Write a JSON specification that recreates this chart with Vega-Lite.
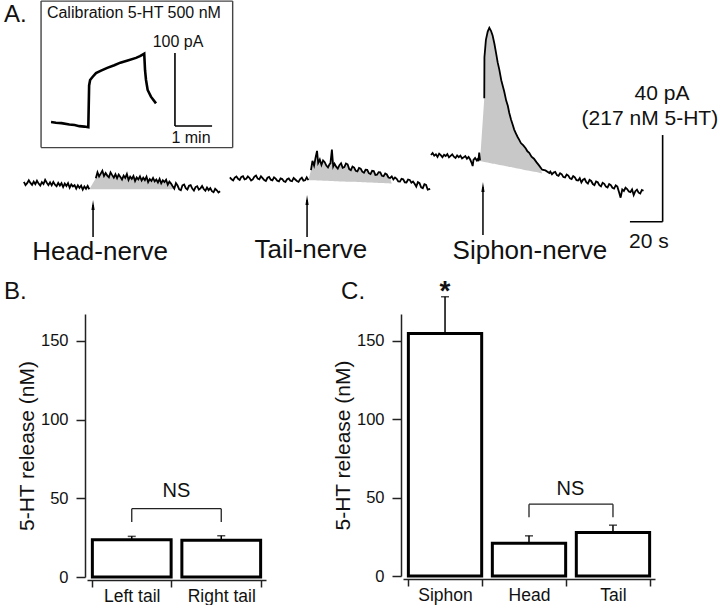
{
  "$schema": "https://vega.github.io/schema/vega-lite/v6.json",
  "padding": {"left": 3, "top": 0, "right": 0, "bottom": 0},
  "bounds": "flush",
  "spacing": 14,
  "config": {
    "font": "Liberation Sans",
    "view": {"stroke": null},
    "axisY": {"offset": 2, "tickCount": 4, "tickSize": 9, "labelPadding": 8, "labelFontSize": 16.5, "labelColor": "#111", "titleFontSize": 21, "titleFontWeight": "normal", "titleColor": "#111", "titlePadding": 3, "domainColor": "#222", "domainWidth": 1.5, "tickColor": "#222", "tickWidth": 1.5, "grid": false},
    "axisX": {"offset": 3, "tickBand": "extent", "tickSize": 7, "labelPadding": 0, "labelFontSize": 17.5, "labelColor": "#111", "labelAngle": 0, "domainColor": "#222", "domainWidth": 1.5, "tickColor": "#222", "tickWidth": 1.5, "grid": false}
  },
  "datasets": {
    "trace": [
      {"seg":"cal","t":30.6,"pA":82.1},{"seg":"cal","t":33.6,"pA":81.8},{"seg":"cal","t":37,"pA":81.6},{"seg":"cal","t":41.8,"pA":81.0},{"seg":"cal","t":45,"pA":80.7},{"seg":"cal","t":47.9,"pA":80.2},{"seg":"cal","t":51,"pA":80.0},{"seg":"cal","t":53.4,"pA":79.7},{"seg":"cal","t":53.9,"pA":99.0},{"seg":"cal","t":54.5,"pA":101.5},{"seg":"cal","t":56.1,"pA":103.0},{"seg":"cal","t":58.1,"pA":104.7},{"seg":"cal","t":61.2,"pA":105.8},{"seg":"cal","t":65,"pA":107.1},{"seg":"cal","t":69.3,"pA":108.3},{"seg":"cal","t":73,"pA":109.5},{"seg":"cal","t":77.5,"pA":110.5},{"seg":"cal","t":82.6,"pA":111.7},{"seg":"cal","t":85,"pA":112.5},{"seg":"cal","t":87.6,"pA":113.6},{"seg":"cal","t":88.1,"pA":106.0},{"seg":"cal","t":88.7,"pA":101.5},{"seg":"cal","t":89.7,"pA":96.9},{"seg":"cal","t":91.7,"pA":93.8},{"seg":"cal","t":94.8,"pA":90.7},
      {"seg":"h1","t":14,"pA":54.5},{"seg":"h1","t":15,"pA":53.0},{"seg":"h1","t":16,"pA":53.9},{"seg":"h1","t":17,"pA":55.2},{"seg":"h1","t":18,"pA":54.0},{"seg":"h1","t":19,"pA":53.1},{"seg":"h1","t":20,"pA":54.6},{"seg":"h1","t":21,"pA":53.4},{"seg":"h1","t":22,"pA":55.0},{"seg":"h1","t":23,"pA":53.7},{"seg":"h1","t":24,"pA":52.8},{"seg":"h1","t":25,"pA":54.4},{"seg":"h1","t":26,"pA":53.5},{"seg":"h1","t":27,"pA":55.4},{"seg":"h1","t":28,"pA":54.1},{"seg":"h1","t":29,"pA":53.0},{"seg":"h1","t":30,"pA":54.3},{"seg":"h1","t":31,"pA":52.9},{"seg":"h1","t":32,"pA":54.5},{"seg":"h1","t":33,"pA":53.2},{"seg":"h1","t":34,"pA":52.5},{"seg":"h1","t":35,"pA":54.0},{"seg":"h1","t":36,"pA":52.8},{"seg":"h1","t":37,"pA":53.9},{"seg":"h1","t":38,"pA":52.1},{"seg":"h1","t":39,"pA":53.7},{"seg":"h1","t":40,"pA":52.6},{"seg":"h1","t":41,"pA":53.9},{"seg":"h1","t":42,"pA":51.8},{"seg":"h1","t":43,"pA":53.3},{"seg":"h1","t":44,"pA":52.4},{"seg":"h1","t":45,"pA":53.0},{"seg":"h1","t":46,"pA":51.4},{"seg":"h1","t":47,"pA":52.9},{"seg":"h1","t":48,"pA":51.7},{"seg":"h1","t":49,"pA":52.8},{"seg":"h1","t":50,"pA":50.9},{"seg":"h1","t":51,"pA":52.4},{"seg":"h1","t":52,"pA":51.3},{"seg":"h1","t":53,"pA":52.6},{"seg":"h1","t":54,"pA":51.1},
      {"seg":"h2","t":58,"pA":56.2},{"seg":"h2","t":59,"pA":58.9},{"seg":"h2","t":60,"pA":57.0},{"seg":"h2","t":61,"pA":58.3},{"seg":"h2","t":62,"pA":59.6},{"seg":"h2","t":63,"pA":57.2},{"seg":"h2","t":64,"pA":58.6},{"seg":"h2","t":65,"pA":57.4},{"seg":"h2","t":66,"pA":56.6},{"seg":"h2","t":67,"pA":58.9},{"seg":"h2","t":68,"pA":57.6},{"seg":"h2","t":69,"pA":56.4},{"seg":"h2","t":70,"pA":58.0},{"seg":"h2","t":71,"pA":56.2},{"seg":"h2","t":72,"pA":57.9},{"seg":"h2","t":73,"pA":56.8},{"seg":"h2","t":74,"pA":55.6},{"seg":"h2","t":75,"pA":57.4},{"seg":"h2","t":76,"pA":56.3},{"seg":"h2","t":77,"pA":58.1},{"seg":"h2","t":78,"pA":55.4},{"seg":"h2","t":79,"pA":56.9},{"seg":"h2","t":80,"pA":55.9},{"seg":"h2","t":81,"pA":57.2},{"seg":"h2","t":82,"pA":54.9},{"seg":"h2","t":83,"pA":56.5},{"seg":"h2","t":84,"pA":55.6},{"seg":"h2","t":85,"pA":57.0},{"seg":"h2","t":86,"pA":55.1},{"seg":"h2","t":87,"pA":56.4},{"seg":"h2","t":88,"pA":55.3},{"seg":"h2","t":89,"pA":56.9},{"seg":"h2","t":90,"pA":54.4},{"seg":"h2","t":91,"pA":55.8},{"seg":"h2","t":92,"pA":54.9},{"seg":"h2","t":93,"pA":56.3},{"seg":"h2","t":94,"pA":54.7},{"seg":"h2","t":95,"pA":55.6},{"seg":"h2","t":96,"pA":54.2},{"seg":"h2","t":97,"pA":55.9},{"seg":"h2","t":98,"pA":53.8},{"seg":"h2","t":99,"pA":55.2},{"seg":"h2","t":100,"pA":54.4},{"seg":"h2","t":101,"pA":55.5},{"seg":"h2","t":102,"pA":53.2},{"seg":"h2","t":103,"pA":54.6},{"seg":"h2","t":104,"pA":53.7},{"seg":"h2","t":105,"pA":52.5},{"seg":"h2","t":106,"pA":51.4},{"seg":"h2","t":107,"pA":53.9},{"seg":"h2","t":108,"pA":52.8},{"seg":"h2","t":109,"pA":51.0},{"seg":"h2","t":110,"pA":50.6},{"seg":"h2","t":111,"pA":52.9},{"seg":"h2","t":112,"pA":53.3},{"seg":"h2","t":113,"pA":51.6},{"seg":"h2","t":114,"pA":51.0},{"seg":"h2","t":115,"pA":52.7},{"seg":"h2","t":116,"pA":53.0},{"seg":"h2","t":117,"pA":51.4},{"seg":"h2","t":118,"pA":50.5},{"seg":"h2","t":119,"pA":52.1},{"seg":"h2","t":120,"pA":52.5},{"seg":"h2","t":121,"pA":50.9},{"seg":"h2","t":122,"pA":51.5},{"seg":"h2","t":123,"pA":52.6},{"seg":"h2","t":124,"pA":51.2},{"seg":"h2","t":125,"pA":50.4},{"seg":"h2","t":126,"pA":51.9},{"seg":"h2","t":127,"pA":50.7},{"seg":"h2","t":128,"pA":51.6},{"seg":"h2","t":129,"pA":50.2},{"seg":"h2","t":130,"pA":49.7},{"seg":"h2","t":131,"pA":51.3},{"seg":"h2","t":132,"pA":50.6},{"seg":"h2","t":133,"pA":49.6},{"seg":"h2","t":134,"pA":50.2},
      {"seg":"t1","t":140,"pA":56.6},{"seg":"t1","t":141,"pA":55.7},{"seg":"t1","t":142,"pA":55.2},{"seg":"t1","t":143,"pA":56.5},{"seg":"t1","t":144,"pA":57.0},{"seg":"t1","t":145,"pA":55.9},{"seg":"t1","t":146,"pA":55.4},{"seg":"t1","t":147,"pA":56.8},{"seg":"t1","t":148,"pA":57.1},{"seg":"t1","t":149,"pA":55.6},{"seg":"t1","t":150,"pA":55.9},{"seg":"t1","t":151,"pA":57.0},{"seg":"t1","t":152,"pA":56.3},{"seg":"t1","t":153,"pA":55.1},{"seg":"t1","t":154,"pA":55.6},{"seg":"t1","t":155,"pA":56.9},{"seg":"t1","t":156,"pA":57.4},{"seg":"t1","t":157,"pA":56.0},{"seg":"t1","t":158,"pA":55.7},{"seg":"t1","t":159,"pA":57.1},{"seg":"t1","t":160,"pA":56.2},{"seg":"t1","t":161,"pA":55.3},{"seg":"t1","t":162,"pA":54.9},{"seg":"t1","t":163,"pA":56.4},{"seg":"t1","t":164,"pA":56.8},{"seg":"t1","t":165,"pA":55.5},{"seg":"t1","t":166,"pA":55.2},{"seg":"t1","t":167,"pA":56.6},{"seg":"t1","t":168,"pA":56.0},{"seg":"t1","t":169,"pA":55.0},{"seg":"t1","t":170,"pA":54.7},{"seg":"t1","t":171,"pA":56.1},{"seg":"t1","t":172,"pA":55.8},{"seg":"t1","t":173,"pA":54.8},{"seg":"t1","t":174,"pA":54.5},{"seg":"t1","t":175,"pA":55.7},{"seg":"t1","t":176,"pA":56.1},{"seg":"t1","t":177,"pA":55.0},{"seg":"t1","t":178,"pA":54.8},{"seg":"t1","t":179,"pA":56.3},{"seg":"t1","t":180,"pA":55.6},{"seg":"t1","t":181,"pA":54.9},{"seg":"t1","t":182,"pA":54.5},{"seg":"t1","t":183,"pA":55.8},{"seg":"t1","t":184,"pA":56.4},{"seg":"t1","t":185,"pA":55.0},{"seg":"t1","t":186,"pA":55.2},{"seg":"t1","t":187,"pA":56.6},{"seg":"t1","t":188,"pA":55.3},
      {"seg":"t2","t":189.6,"pA":59.9},{"seg":"t2","t":190.5,"pA":64.2},{"seg":"t2","t":191.5,"pA":62.0},{"seg":"t2","t":192.5,"pA":66.0},{"seg":"t2","t":193.3,"pA":68.8},{"seg":"t2","t":194,"pA":63.2},{"seg":"t2","t":195,"pA":64.8},{"seg":"t2","t":196,"pA":62.3},{"seg":"t2","t":197,"pA":64.4},{"seg":"t2","t":198,"pA":63.6},{"seg":"t2","t":199,"pA":62.0},{"seg":"t2","t":200,"pA":61.2},{"seg":"t2","t":201,"pA":62.7},{"seg":"t2","t":201.5,"pA":63.0},{"seg":"t2","t":202.4,"pA":69.4},{"seg":"t2","t":203.2,"pA":61.6},{"seg":"t2","t":204,"pA":62.9},{"seg":"t2","t":205,"pA":61.5},{"seg":"t2","t":206,"pA":60.6},{"seg":"t2","t":207,"pA":62.2},{"seg":"t2","t":208,"pA":63.1},{"seg":"t2","t":209,"pA":61.0},{"seg":"t2","t":210,"pA":61.3},{"seg":"t2","t":211,"pA":63.0},{"seg":"t2","t":212,"pA":62.6},{"seg":"t2","t":213,"pA":60.4},{"seg":"t2","t":214,"pA":59.9},{"seg":"t2","t":215,"pA":61.6},{"seg":"t2","t":216,"pA":61.1},{"seg":"t2","t":217,"pA":59.6},{"seg":"t2","t":218,"pA":59.3},{"seg":"t2","t":219,"pA":60.9},{"seg":"t2","t":220,"pA":60.6},{"seg":"t2","t":221,"pA":59.2},{"seg":"t2","t":222,"pA":58.7},{"seg":"t2","t":223,"pA":60.1},{"seg":"t2","t":224,"pA":60.0},{"seg":"t2","t":225,"pA":58.5},{"seg":"t2","t":226,"pA":58.1},{"seg":"t2","t":227,"pA":59.6},{"seg":"t2","t":228,"pA":59.5},{"seg":"t2","t":229,"pA":57.7},{"seg":"t2","t":230,"pA":57.8},{"seg":"t2","t":231,"pA":59.0},{"seg":"t2","t":232,"pA":58.9},{"seg":"t2","t":233,"pA":57.3},{"seg":"t2","t":234,"pA":57.1},{"seg":"t2","t":235,"pA":58.4},{"seg":"t2","t":236,"pA":57.9},{"seg":"t2","t":237,"pA":56.5},{"seg":"t2","t":238,"pA":56.3},{"seg":"t2","t":239,"pA":57.0},{"seg":"t2","t":240,"pA":55.6},{"seg":"t2","t":241,"pA":56.5},{"seg":"t2","t":242,"pA":55.9},{"seg":"t2","t":243,"pA":54.7},{"seg":"t2","t":244,"pA":54.6},{"seg":"t2","t":245,"pA":55.9},{"seg":"t2","t":246,"pA":55.7},{"seg":"t2","t":247,"pA":54.3},{"seg":"t2","t":248,"pA":54.2},{"seg":"t2","t":249,"pA":55.6},{"seg":"t2","t":250,"pA":55.4},{"seg":"t2","t":251,"pA":54.1},{"seg":"t2","t":252,"pA":54.7},{"seg":"t2","t":253,"pA":53.6},{"seg":"t2","t":254,"pA":52.3},{"seg":"t2","t":255,"pA":54.4},{"seg":"t2","t":256,"pA":53.9},{"seg":"t2","t":257,"pA":52.0},{"seg":"t2","t":258,"pA":51.6},{"seg":"t2","t":259,"pA":53.4},{"seg":"t2","t":260,"pA":53.1},{"seg":"t2","t":261,"pA":50.9},{"seg":"t2","t":262.5,"pA":51.3},
      {"seg":"s1","t":263,"pA":66.9},{"seg":"s1","t":264,"pA":67.8},{"seg":"s1","t":265,"pA":66.6},{"seg":"s1","t":266,"pA":67.2},{"seg":"s1","t":267,"pA":66.0},{"seg":"s1","t":268,"pA":67.5},{"seg":"s1","t":269,"pA":66.8},{"seg":"s1","t":270,"pA":65.9},{"seg":"s1","t":271,"pA":67.0},{"seg":"s1","t":272,"pA":66.4},{"seg":"s1","t":273,"pA":67.3},{"seg":"s1","t":274,"pA":65.8},{"seg":"s1","t":275,"pA":66.5},{"seg":"s1","t":276,"pA":67.2},{"seg":"s1","t":277,"pA":66.1},{"seg":"s1","t":278,"pA":65.5},{"seg":"s1","t":279,"pA":66.7},{"seg":"s1","t":280,"pA":65.9},{"seg":"s1","t":281,"pA":66.6},{"seg":"s1","t":282,"pA":65.3},{"seg":"s1","t":283,"pA":65.8},{"seg":"s1","t":284,"pA":66.4},{"seg":"s1","t":285,"pA":65.2},{"seg":"s1","t":286,"pA":66.0},{"seg":"s1","t":287,"pA":64.8},{"seg":"s1","t":288,"pA":63.0},{"seg":"s1","t":288.5,"pA":61.8},{"seg":"s1","t":289,"pA":64.6},{"seg":"s1","t":290,"pA":65.5},{"seg":"s1","t":291,"pA":64.4},{"seg":"s1","t":291.5,"pA":64.9},{"seg":"s1","t":292,"pA":64.0},{"seg":"s1","t":292.5,"pA":68.0},{"seg":"s1","t":293,"pA":64.4},
      {"seg":"s2","t":295.6,"pA":93.1},{"seg":"s2","t":295.7,"pA":112.0},{"seg":"s2","t":296.6,"pA":120.0},{"seg":"s2","t":297.7,"pA":123.8},{"seg":"s2","t":298.7,"pA":125.6},{"seg":"s2","t":299.7,"pA":124.2},{"seg":"s2","t":300.7,"pA":122.0},{"seg":"s2","t":301.8,"pA":118.2},{"seg":"s2","t":302.8,"pA":114.0},{"seg":"s2","t":303.8,"pA":109.6},{"seg":"s2","t":304.8,"pA":106.3},{"seg":"s2","t":306,"pA":101.4},{"seg":"s2","t":307,"pA":98.5},{"seg":"s2","t":307.8,"pA":96.2},{"seg":"s2","t":309,"pA":92.0},{"seg":"s2","t":310,"pA":89.6},{"seg":"s2","t":310.9,"pA":86.3},{"seg":"s2","t":312,"pA":83.2},{"seg":"s2","t":313,"pA":80.8},{"seg":"s2","t":313.9,"pA":78.6},{"seg":"s2","t":315,"pA":76.8},{"seg":"s2","t":316,"pA":75.2},{"seg":"s2","t":317,"pA":73.9},{"seg":"s2","t":318,"pA":72.4},{"seg":"s2","t":319.5,"pA":71.3},{"seg":"s2","t":321,"pA":69.9},{"seg":"s2","t":322,"pA":68.6},{"seg":"s2","t":323.1,"pA":67.9},{"seg":"s2","t":324.5,"pA":66.1},{"seg":"s2","t":326,"pA":65.2},{"seg":"s2","t":327.5,"pA":63.6},{"seg":"s2","t":329.2,"pA":62.0},{"seg":"s2","t":331,"pA":60.1},{"seg":"s2","t":333,"pA":59.8},{"seg":"s2","t":335.4,"pA":58.6},{"seg":"s2","t":336,"pA":59.2},{"seg":"s2","t":337,"pA":58.0},{"seg":"s2","t":338,"pA":58.8},{"seg":"s2","t":339,"pA":59.1},{"seg":"s2","t":340,"pA":57.6},{"seg":"s2","t":341,"pA":57.3},{"seg":"s2","t":342,"pA":58.5},{"seg":"s2","t":343,"pA":58.0},{"seg":"s2","t":344,"pA":56.7},{"seg":"s2","t":345,"pA":56.5},{"seg":"s2","t":346,"pA":57.9},{"seg":"s2","t":347,"pA":57.4},{"seg":"s2","t":348,"pA":56.1},{"seg":"s2","t":349,"pA":55.8},{"seg":"s2","t":350,"pA":57.2},{"seg":"s2","t":351,"pA":56.6},{"seg":"s2","t":352,"pA":55.3},{"seg":"s2","t":353,"pA":55.1},{"seg":"s2","t":354,"pA":56.2},{"seg":"s2","t":355,"pA":54.2},{"seg":"s2","t":356,"pA":55.5},{"seg":"s2","t":357,"pA":55.9},{"seg":"s2","t":358,"pA":54.4},{"seg":"s2","t":359,"pA":53.7},{"seg":"s2","t":360,"pA":55.4},{"seg":"s2","t":361,"pA":54.9},{"seg":"s2","t":362,"pA":53.5},{"seg":"s2","t":363,"pA":53.0},{"seg":"s2","t":364,"pA":54.7},{"seg":"s2","t":365,"pA":54.3},{"seg":"s2","t":366,"pA":53.0},{"seg":"s2","t":367,"pA":52.4},{"seg":"s2","t":368,"pA":54.1},{"seg":"s2","t":369,"pA":53.6},{"seg":"s2","t":370,"pA":52.3},{"seg":"s2","t":371,"pA":51.9},{"seg":"s2","t":372,"pA":53.5},{"seg":"s2","t":373,"pA":53.0},{"seg":"s2","t":374,"pA":51.8},{"seg":"s2","t":375,"pA":51.4},{"seg":"s2","t":376,"pA":52.9},{"seg":"s2","t":377,"pA":52.3},{"seg":"s2","t":378,"pA":49.8},{"seg":"s2","t":379,"pA":47.2},{"seg":"s2","t":380,"pA":51.0},{"seg":"s2","t":381,"pA":50.3},{"seg":"s2","t":382,"pA":51.8},{"seg":"s2","t":383,"pA":51.2},{"seg":"s2","t":384,"pA":50.1},{"seg":"s2","t":385,"pA":49.8},{"seg":"s2","t":386,"pA":51.0},{"seg":"s2","t":387,"pA":48.4},{"seg":"s2","t":388,"pA":50.2},{"seg":"s2","t":389,"pA":50.9},{"seg":"s2","t":390,"pA":49.5},{"seg":"s2","t":391,"pA":49.1},{"seg":"s2","t":392,"pA":50.8},{"seg":"s2","t":393,"pA":50.4}
    ],
    "fill": [
      {"g":"h","t":54,"top":51.1,"base":51.1},{"g":"h","t":58,"top":56.2,"base":51.1},{"g":"h","t":59,"top":58.9,"base":51.1},{"g":"h","t":60,"top":57.0,"base":51.1},{"g":"h","t":61,"top":58.3,"base":51.1},{"g":"h","t":62,"top":59.6,"base":51.1},{"g":"h","t":63,"top":57.2,"base":51.1},{"g":"h","t":64,"top":58.6,"base":51.1},{"g":"h","t":65,"top":57.4,"base":51.1},{"g":"h","t":66,"top":56.6,"base":51.1},{"g":"h","t":67,"top":58.9,"base":51.1},{"g":"h","t":68,"top":57.6,"base":51.1},{"g":"h","t":69,"top":56.4,"base":51.1},{"g":"h","t":70,"top":58.0,"base":51.1},{"g":"h","t":71,"top":56.2,"base":51.1},{"g":"h","t":72,"top":57.9,"base":51.1},{"g":"h","t":73,"top":56.8,"base":51.1},{"g":"h","t":74,"top":55.6,"base":51.1},{"g":"h","t":75,"top":57.4,"base":51.1},{"g":"h","t":76,"top":56.3,"base":51.1},{"g":"h","t":77,"top":58.1,"base":51.1},{"g":"h","t":78,"top":55.4,"base":51.1},{"g":"h","t":79,"top":56.9,"base":51.1},{"g":"h","t":80,"top":55.9,"base":51.1},{"g":"h","t":81,"top":57.2,"base":51.1},{"g":"h","t":82,"top":54.9,"base":51.1},{"g":"h","t":83,"top":56.5,"base":51.1},{"g":"h","t":84,"top":55.6,"base":51.1},{"g":"h","t":85,"top":57.0,"base":51.1},{"g":"h","t":86,"top":55.1,"base":51.1},{"g":"h","t":87,"top":56.4,"base":51.1},{"g":"h","t":88,"top":55.3,"base":51.1},{"g":"h","t":89,"top":56.9,"base":51.1},{"g":"h","t":90,"top":54.4,"base":51.1},{"g":"h","t":91,"top":55.8,"base":51.1},{"g":"h","t":92,"top":54.9,"base":51.1},{"g":"h","t":93,"top":56.3,"base":51.1},{"g":"h","t":94,"top":54.7,"base":51.1},{"g":"h","t":95,"top":55.6,"base":51.1},{"g":"h","t":96,"top":54.2,"base":51.1},{"g":"h","t":97,"top":55.9,"base":51.1},{"g":"h","t":98,"top":53.8,"base":51.1},{"g":"h","t":99,"top":55.2,"base":51.1},{"g":"h","t":100,"top":54.4,"base":51.1},{"g":"h","t":101,"top":55.5,"base":51.1},{"g":"h","t":102,"top":53.2,"base":51.1},{"g":"h","t":103,"top":54.6,"base":51.1},{"g":"h","t":104,"top":53.7,"base":51.1},{"g":"h","t":105,"top":52.5,"base":51.2},{"g":"h","t":106,"top":51.2,"base":51.2},
      {"g":"t","t":188,"top":55.3,"base":55.3},{"g":"t","t":189.6,"top":59.9,"base":55.3},{"g":"t","t":190.5,"top":64.2,"base":55.2},{"g":"t","t":191.5,"top":62.0,"base":55.2},{"g":"t","t":192.5,"top":66.0,"base":55.2},{"g":"t","t":193.3,"top":68.8,"base":55.1},{"g":"t","t":194,"top":63.2,"base":55.1},{"g":"t","t":195,"top":64.8,"base":55.1},{"g":"t","t":196,"top":62.3,"base":55.1},{"g":"t","t":197,"top":64.4,"base":55.0},{"g":"t","t":198,"top":63.6,"base":55.0},{"g":"t","t":199,"top":62.0,"base":55.0},{"g":"t","t":200,"top":61.2,"base":55.0},{"g":"t","t":201,"top":62.7,"base":54.9},{"g":"t","t":201.5,"top":63.0,"base":54.9},{"g":"t","t":202.4,"top":69.4,"base":54.9},{"g":"t","t":203.2,"top":61.6,"base":54.9},{"g":"t","t":204,"top":62.9,"base":54.8},{"g":"t","t":205,"top":61.5,"base":54.8},{"g":"t","t":206,"top":60.6,"base":54.8},{"g":"t","t":207,"top":62.2,"base":54.7},{"g":"t","t":208,"top":63.1,"base":54.7},{"g":"t","t":209,"top":61.0,"base":54.7},{"g":"t","t":210,"top":61.3,"base":54.7},{"g":"t","t":211,"top":63.0,"base":54.6},{"g":"t","t":212,"top":62.6,"base":54.6},{"g":"t","t":213,"top":60.4,"base":54.6},{"g":"t","t":214,"top":59.9,"base":54.5},{"g":"t","t":215,"top":61.6,"base":54.5},{"g":"t","t":216,"top":61.1,"base":54.5},{"g":"t","t":217,"top":59.6,"base":54.5},{"g":"t","t":218,"top":59.3,"base":54.4},{"g":"t","t":219,"top":60.9,"base":54.4},{"g":"t","t":220,"top":60.6,"base":54.4},{"g":"t","t":221,"top":59.2,"base":54.3},{"g":"t","t":222,"top":58.7,"base":54.3},{"g":"t","t":223,"top":60.1,"base":54.3},{"g":"t","t":224,"top":60.0,"base":54.2},{"g":"t","t":225,"top":58.5,"base":54.2},{"g":"t","t":226,"top":58.1,"base":54.2},{"g":"t","t":227,"top":59.6,"base":54.2},{"g":"t","t":228,"top":59.5,"base":54.1},{"g":"t","t":229,"top":57.7,"base":54.1},{"g":"t","t":230,"top":57.8,"base":54.1},{"g":"t","t":231,"top":59.0,"base":54.0},{"g":"t","t":232,"top":58.9,"base":54.0},{"g":"t","t":233,"top":57.3,"base":54.0},{"g":"t","t":234,"top":57.1,"base":54.0},{"g":"t","t":235,"top":58.4,"base":53.9},{"g":"t","t":236,"top":57.9,"base":53.9},{"g":"t","t":237,"top":56.5,"base":53.9},{"g":"t","t":238,"top":56.3,"base":53.8},{"g":"t","t":239,"top":53.8,"base":53.8},
      {"g":"s","t":293,"top":64.1,"base":64.1},{"g":"s","t":295.6,"top":93.1,"base":63.7},{"g":"s","t":295.7,"top":112.0,"base":63.7},{"g":"s","t":296.6,"top":120.0,"base":63.6},{"g":"s","t":297.7,"top":123.8,"base":63.4},{"g":"s","t":298.7,"top":125.6,"base":63.2},{"g":"s","t":299.7,"top":124.2,"base":63.1},{"g":"s","t":300.7,"top":122.0,"base":62.9},{"g":"s","t":301.8,"top":118.2,"base":62.8},{"g":"s","t":302.8,"top":114.0,"base":62.6},{"g":"s","t":303.8,"top":109.6,"base":62.5},{"g":"s","t":304.8,"top":106.3,"base":62.3},{"g":"s","t":306,"top":101.4,"base":62.2},{"g":"s","t":307,"top":98.5,"base":62.0},{"g":"s","t":307.8,"top":96.2,"base":61.9},{"g":"s","t":309,"top":92.0,"base":61.7},{"g":"s","t":310,"top":89.6,"base":61.6},{"g":"s","t":310.9,"top":86.3,"base":61.4},{"g":"s","t":312,"top":83.2,"base":61.3},{"g":"s","t":313,"top":80.8,"base":61.1},{"g":"s","t":313.9,"top":78.6,"base":61.0},{"g":"s","t":315,"top":76.8,"base":60.8},{"g":"s","t":316,"top":75.2,"base":60.7},{"g":"s","t":317,"top":73.9,"base":60.5},{"g":"s","t":318,"top":72.4,"base":60.4},{"g":"s","t":319.5,"top":71.3,"base":60.1},{"g":"s","t":321,"top":69.9,"base":59.9},{"g":"s","t":322,"top":68.6,"base":59.8},{"g":"s","t":323.1,"top":67.9,"base":59.6},{"g":"s","t":324.5,"top":66.1,"base":59.4},{"g":"s","t":326,"top":65.2,"base":59.2},{"g":"s","t":327.5,"top":63.6,"base":59.0},{"g":"s","t":329.2,"top":62.0,"base":58.7},{"g":"s","t":331,"top":58.4,"base":58.4}
    ],
    "lines": [
      {"k":"box","t":24.5,"t2":141.7,"pA":137.9,"pA2":137.9},
      {"k":"box","t":24.5,"t2":141.7,"pA":70.3,"pA2":70.3},
      {"k":"box","t":24.5,"t2":24.5,"pA":70.3,"pA2":137.9},
      {"k":"box","t":141.7,"t2":141.7,"pA":70.3,"pA2":137.9},
      {"k":"bar","t":106.4,"t2":106.4,"pA":114.0,"pA2":80.3},
      {"k":"bar","t":106.4,"t2":129.1,"pA":80.3,"pA2":80.3},
      {"k":"bar","t":404.7,"t2":404.7,"pA":76.1,"pA2":36.1},
      {"k":"bar","t":384.7,"t2":404.7,"pA":36.1,"pA2":36.1}
    ],
    "arrows": [
      {"nerve":"Head","t":56.3,"tip":46.1,"head":43.8,"bot":29.1},
      {"nerve":"Tail","t":187.2,"tip":48.4,"head":46.1,"bot":29.1},
      {"nerve":"Siphon","t":294.8,"tip":54.4,"head":52.1,"bot":30.0}
    ],
    "labels": [
      {"k":"panel","txt":"A.","t":1.8,"pA":128.4},
      {"k":"panel","txt":"B.","t":1.8,"pA":0.5},
      {"k":"panel","txt":"C.","t":208,"pA":0.5},
      {"k":"nerve","txt":"Head-nerve","t":60.6,"pA":18.5},
      {"k":"nerve","txt":"Tail-nerve","t":189.6,"pA":19.2},
      {"k":"nerve","txt":"Siphon-nerve","t":323.5,"pA":18.8},
      {"k":"scale","txt":"40 pA","t":404.3,"pA":92.3},
      {"k":"scale","txt":"(217 nM 5-HT)","t":396.9,"pA":80.7},
      {"k":"scale","txt":"20 s","t":396.3,"pA":23.9},
      {"k":"inset","txt":"Calibration 5-HT 500 nM","t":81.3,"pA":130.0},
      {"k":"inset","txt":"100 pA","t":108.3,"pA":116.9},
      {"k":"inset","txt":"1 min","t":116.2,"pA":72.6}
    ],
    "release": [
      {"panel":"B","cond":"Left tail","val":23.7,"err":25.8},
      {"panel":"B","cond":"Right tail","val":23.3,"err":26.2},
      {"panel":"C","cond":"Siphon","val":154.5,"err":178.0},
      {"panel":"C","cond":"Head","val":20.8,"err":25.6},
      {"panel":"C","cond":"Tail","val":27.8,"err":32.4}
    ],
    "brackets": [
      {"panel":"B","cond":"Left tail","cond2":"Right tail","val":35,"err":43.4,"ns":51,"txt":"NS"},
      {"panel":"C","cond":"Head","cond2":"Tail","val":37.5,"err":45.8,"ns":51.5,"txt":"NS"}
    ],
    "stars": [
      {"panel":"C","cond":"Siphon","val":176,"txt":"*"}
    ]
  },
  "vconcat": [
    {
      "width": 634,
      "height": 300,
      "encoding": {
        "x": {"field": "t", "type": "quantitative", "scale": {"domain": [52.6, 440.4], "nice": false, "zero": false}, "axis": null}
      },
      "layer": [
        {
          "data": {"name": "fill"},
          "mark": {"type": "area", "color": "#c8c8c8"},
          "encoding": {
            "y": {"field": "top", "type": "quantitative", "scale": {"domain": [0, 138.4], "nice": false, "zero": false}, "axis": null},
            "y2": {"field": "base"},
            "detail": {"field": "g"}
          }
        },
        {
          "data": {"name": "trace"},
          "transform": [{"filter": "datum.seg !== 'cal'"}],
          "mark": {"type": "line", "color": "black", "strokeWidth": 1.8},
          "encoding": {
            "y": {"field": "pA", "type": "quantitative", "scale": {"domain": [0, 138.4], "nice": false, "zero": false}, "axis": null},
            "detail": {"field": "seg"}
          }
        },
        {
          "data": {"name": "trace"},
          "transform": [{"filter": "datum.seg === 'cal'"}],
          "mark": {"type": "line", "color": "black", "strokeWidth": 2.6},
          "encoding": {
            "y": {"field": "pA", "type": "quantitative", "scale": {"domain": [0, 138.4], "nice": false, "zero": false}, "axis": null},
            "detail": {"field": "seg"}
          }
        },
        {
          "data": {"name": "lines"},
          "transform": [{"filter": "datum.k === 'box'"}],
          "mark": {"type": "rule", "color": "#444", "strokeWidth": 1.4},
          "encoding": {
            "x2": {"field": "t2"},
            "y": {"field": "pA", "type": "quantitative", "scale": {"domain": [0, 138.4], "nice": false, "zero": false}, "axis": null},
            "y2": {"field": "pA2"}
          }
        },
        {
          "data": {"name": "lines"},
          "transform": [{"filter": "datum.k === 'bar'"}],
          "mark": {"type": "rule", "color": "black", "strokeWidth": 1.6},
          "encoding": {
            "x2": {"field": "t2"},
            "y": {"field": "pA", "type": "quantitative", "scale": {"domain": [0, 138.4], "nice": false, "zero": false}, "axis": null},
            "y2": {"field": "pA2"}
          }
        },
        {
          "data": {"name": "arrows"},
          "mark": {"type": "rule", "color": "black", "strokeWidth": 1.5},
          "encoding": {
            "y": {"field": "head", "type": "quantitative", "scale": {"domain": [0, 138.4], "nice": false, "zero": false}, "axis": null},
            "y2": {"field": "bot"}
          }
        },
        {
          "data": {"name": "arrows"},
          "mark": {"type": "point", "shape": "M0,-1L0.32,1L-0.32,1Z", "size": 100, "filled": true, "color": "black", "opacity": 1},
          "encoding": {
            "y": {"field": "head", "type": "quantitative", "scale": {"domain": [0, 138.4], "nice": false, "zero": false}, "axis": null}
          }
        },
        {
          "data": {"name": "labels"},
          "transform": [{"filter": "datum.k === 'panel'"}],
          "mark": {"type": "text", "fontSize": 24, "align": "left", "baseline": "alphabetic", "color": "#111"},
          "encoding": {
            "y": {"field": "pA", "type": "quantitative", "scale": {"domain": [0, 138.4], "nice": false, "zero": false}, "axis": null},
            "text": {"field": "txt"}
          }
        },
        {
          "data": {"name": "labels"},
          "transform": [{"filter": "datum.k === 'nerve'"}],
          "mark": {"type": "text", "fontSize": 26, "align": "center", "baseline": "alphabetic", "color": "#111"},
          "encoding": {
            "y": {"field": "pA", "type": "quantitative", "scale": {"domain": [0, 138.4], "nice": false, "zero": false}, "axis": null},
            "text": {"field": "txt"}
          }
        },
        {
          "data": {"name": "labels"},
          "transform": [{"filter": "datum.k === 'scale'"}],
          "mark": {"type": "text", "fontSize": 21, "align": "center", "baseline": "alphabetic", "color": "#111"},
          "encoding": {
            "y": {"field": "pA", "type": "quantitative", "scale": {"domain": [0, 138.4], "nice": false, "zero": false}, "axis": null},
            "text": {"field": "txt"}
          }
        },
        {
          "data": {"name": "labels"},
          "transform": [{"filter": "datum.k === 'inset'"}],
          "mark": {"type": "text", "fontSize": 16, "align": "center", "baseline": "alphabetic", "color": "#111"},
          "encoding": {
            "y": {"field": "pA", "type": "quantitative", "scale": {"domain": [0, 138.4], "nice": false, "zero": false}, "axis": null},
            "text": {"field": "txt"}
          }
        }
      ]
    },
    {
      "bounds": "flush",
      "spacing": 137,
      "hconcat": [
        {
          "width": 179,
          "height": 263,
          "encoding": {
            "x": {"field": "cond", "type": "nominal", "title": null, "scale": {"domain": ["Left tail", "Right tail"], "paddingInner": 0.12, "paddingOuter": 0.06}},
            "y": {"field": "val", "type": "quantitative", "title": "5-HT release (nM)", "scale": {"domain": [0, 167], "nice": false}}
          },
          "layer": [
            {"data": {"name": "release"}, "transform": [{"filter": "datum.panel === 'B'"}], "mark": {"type": "bar", "fill": "white", "stroke": "black", "strokeWidth": 3, "strokeJoin": "miter"}},
            {"data": {"name": "release"}, "transform": [{"filter": "datum.panel === 'B'"}], "mark": {"type": "rule", "color": "black", "strokeWidth": 1.5}, "encoding": {"y2": {"field": "err"}}},
            {"data": {"name": "release"}, "transform": [{"filter": "datum.panel === 'B'"}], "mark": {"type": "tick", "color": "black", "thickness": 1.5, "size": 8}, "encoding": {"y": {"field": "err", "type": "quantitative", "title": "5-HT release (nM)"}}},
            {"data": {"name": "brackets"}, "transform": [{"filter": "datum.panel === 'B'"}], "mark": {"type": "rule", "color": "#222", "strokeWidth": 1.3}, "encoding": {"x2": {"field": "cond2"}, "y": {"field": "err", "type": "quantitative", "title": "5-HT release (nM)"}}},
            {"data": {"name": "brackets"}, "transform": [{"filter": "datum.panel === 'B'"}], "mark": {"type": "rule", "color": "#222", "strokeWidth": 1.3}, "encoding": {"y2": {"field": "err"}}},
            {"data": {"name": "brackets"}, "transform": [{"filter": "datum.panel === 'B'"}], "mark": {"type": "rule", "color": "#222", "strokeWidth": 1.3}, "encoding": {"x": {"field": "cond2", "type": "nominal", "title": null}, "y2": {"field": "err"}}},
            {"data": {"name": "brackets"}, "transform": [{"filter": "datum.panel === 'B'"}], "mark": {"type": "text", "fontSize": 20, "baseline": "alphabetic", "color": "#111"}, "encoding": {"x": {"field": "cond", "type": "nominal", "title": null, "bandPosition": 1.068}, "y": {"field": "ns", "type": "quantitative", "title": "5-HT release (nM)"}, "text": {"field": "txt"}}}
          ]
        },
        {
          "width": 252,
          "height": 262,
          "encoding": {
            "x": {"field": "cond", "type": "nominal", "title": null, "scale": {"domain": ["Siphon", "Head", "Tail"], "paddingInner": 0.127, "paddingOuter": 0.064}},
            "y": {"field": "val", "type": "quantitative", "title": "5-HT release (nM)", "scale": {"domain": [0, 167], "nice": false}}
          },
          "layer": [
            {"data": {"name": "release"}, "transform": [{"filter": "datum.panel === 'C'"}], "mark": {"type": "bar", "fill": "white", "stroke": "black", "strokeWidth": 3, "strokeJoin": "miter"}},
            {"data": {"name": "release"}, "transform": [{"filter": "datum.panel === 'C'"}], "mark": {"type": "rule", "color": "black", "strokeWidth": 1.5}, "encoding": {"y2": {"field": "err"}}},
            {"data": {"name": "release"}, "transform": [{"filter": "datum.panel === 'C'"}], "mark": {"type": "tick", "color": "black", "thickness": 1.5, "size": 8}, "encoding": {"y": {"field": "err", "type": "quantitative", "title": "5-HT release (nM)"}}},
            {"data": {"name": "brackets"}, "transform": [{"filter": "datum.panel === 'C'"}], "mark": {"type": "rule", "color": "#222", "strokeWidth": 1.3}, "encoding": {"x2": {"field": "cond2"}, "y": {"field": "err", "type": "quantitative", "title": "5-HT release (nM)"}}},
            {"data": {"name": "brackets"}, "transform": [{"filter": "datum.panel === 'C'"}], "mark": {"type": "rule", "color": "#222", "strokeWidth": 1.3}, "encoding": {"y2": {"field": "err"}}},
            {"data": {"name": "brackets"}, "transform": [{"filter": "datum.panel === 'C'"}], "mark": {"type": "rule", "color": "#222", "strokeWidth": 1.3}, "encoding": {"x": {"field": "cond2", "type": "nominal", "title": null}, "y2": {"field": "err"}}},
            {"data": {"name": "brackets"}, "transform": [{"filter": "datum.panel === 'C'"}], "mark": {"type": "text", "fontSize": 20, "baseline": "alphabetic", "color": "#111"}, "encoding": {"x": {"field": "cond", "type": "nominal", "title": null, "bandPosition": 1.064}, "y": {"field": "ns", "type": "quantitative", "title": "5-HT release (nM)"}, "text": {"field": "txt"}}},
            {"data": {"name": "stars"}, "mark": {"type": "text", "fontSize": 28, "fontWeight": "bold", "baseline": "alphabetic", "color": "#111"}, "encoding": {"text": {"field": "txt"}}}
          ]
        }
      ]
    }
  ]
}
